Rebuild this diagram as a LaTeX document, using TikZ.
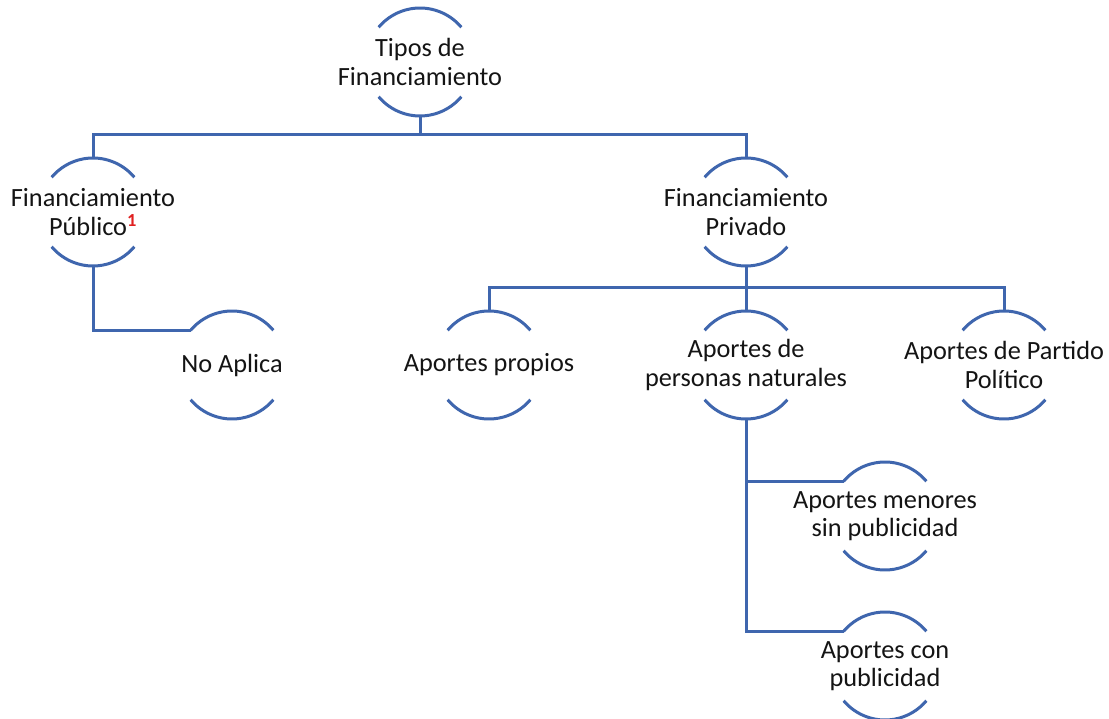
\documentclass[tikz,border=0pt]{standalone}
\usepackage{fontspec}
\setmainfont{Carlito}
\definecolor{linec}{HTML}{3F66AE}
\definecolor{txt}{HTML}{141414}
\definecolor{fnred}{HTML}{E02020}
\tikzset{
  lbl/.style={align=center, inner sep=0pt, text=txt,
    font=\fontsize{26.3pt}{28.5pt}\selectfont},
  capline/.style={draw=linec, line width=3pt},
  conn/.style={draw=linec, line width=3pt},
}
\newcommand{\caps}[1]{%
  \draw[capline] ([shift={(40:54pt)}]#1.center) arc[start angle=40, end angle=140, radius=54pt];
  \draw[capline] ([shift={(220:54pt)}]#1.center) arc[start angle=220, end angle=320, radius=54pt];
}
\begin{document}
\begin{tikzpicture}[x=1pt, y=-1pt]
\useasboundingbox[fill=white] (0,0) rectangle (1109,719);

\node[lbl] (tipos) at (420,62) {Tipos de\\Financiamiento};
\node[lbl] (pub) at (93,212) {Financiamiento\\P\'ublico\textsuperscript{\textcolor{fnred}{\textbf{1}}}};
\node[lbl] (priv) at (746,212) {Financiamiento\\Privado};
\node[lbl] (noap) at (232,365) {No Aplica};
\node[lbl] (prop) at (489,365) {Aportes propios};
\node[lbl] (pers) at (746,365) {Aportes de\\personas naturales};
\node[lbl] (part) at (1004,365) {Aportes de Partido\\Pol\'itico};
\node[lbl] (men) at (885,516) {Aportes menores\\sin publicidad};
\node[lbl] (con) at (885,666) {Aportes con\\publicidad};

\caps{tipos}
\caps{pub}
\caps{priv}
\caps{noap}
\caps{prop}
\caps{pers}
\caps{part}
\caps{men}
\caps{con}

% level 1
\path ([yshift=-54pt]tipos.center) ++(0,19) coordinate (b1);
\draw[conn] ([yshift=-54pt]tipos.center) -- (b1);
\draw[conn] ([yshift=54pt]pub.center) |- (b1) -| ([yshift=54pt]priv.center);

% public branch
\draw[conn] ([yshift=-54pt]pub.center) |- ([shift={(140:54pt)}]noap.center);

% private branch
\path ([yshift=-54pt]priv.center) ++(0,22) coordinate (b2);
\draw[conn] ([yshift=-54pt]priv.center) -- ([yshift=54pt]pers.center);
\draw[conn] ([yshift=54pt]prop.center) |- (b2) -| ([yshift=54pt]part.center);

% natural persons branch
\draw[conn] ([yshift=-54pt]pers.center) |- ([shift={(140:54pt)}]con.center);
\draw[conn] ([shift={(140:54pt)}]men.center) -| ([yshift=-54pt]pers.center);
\end{tikzpicture}
\end{document}
